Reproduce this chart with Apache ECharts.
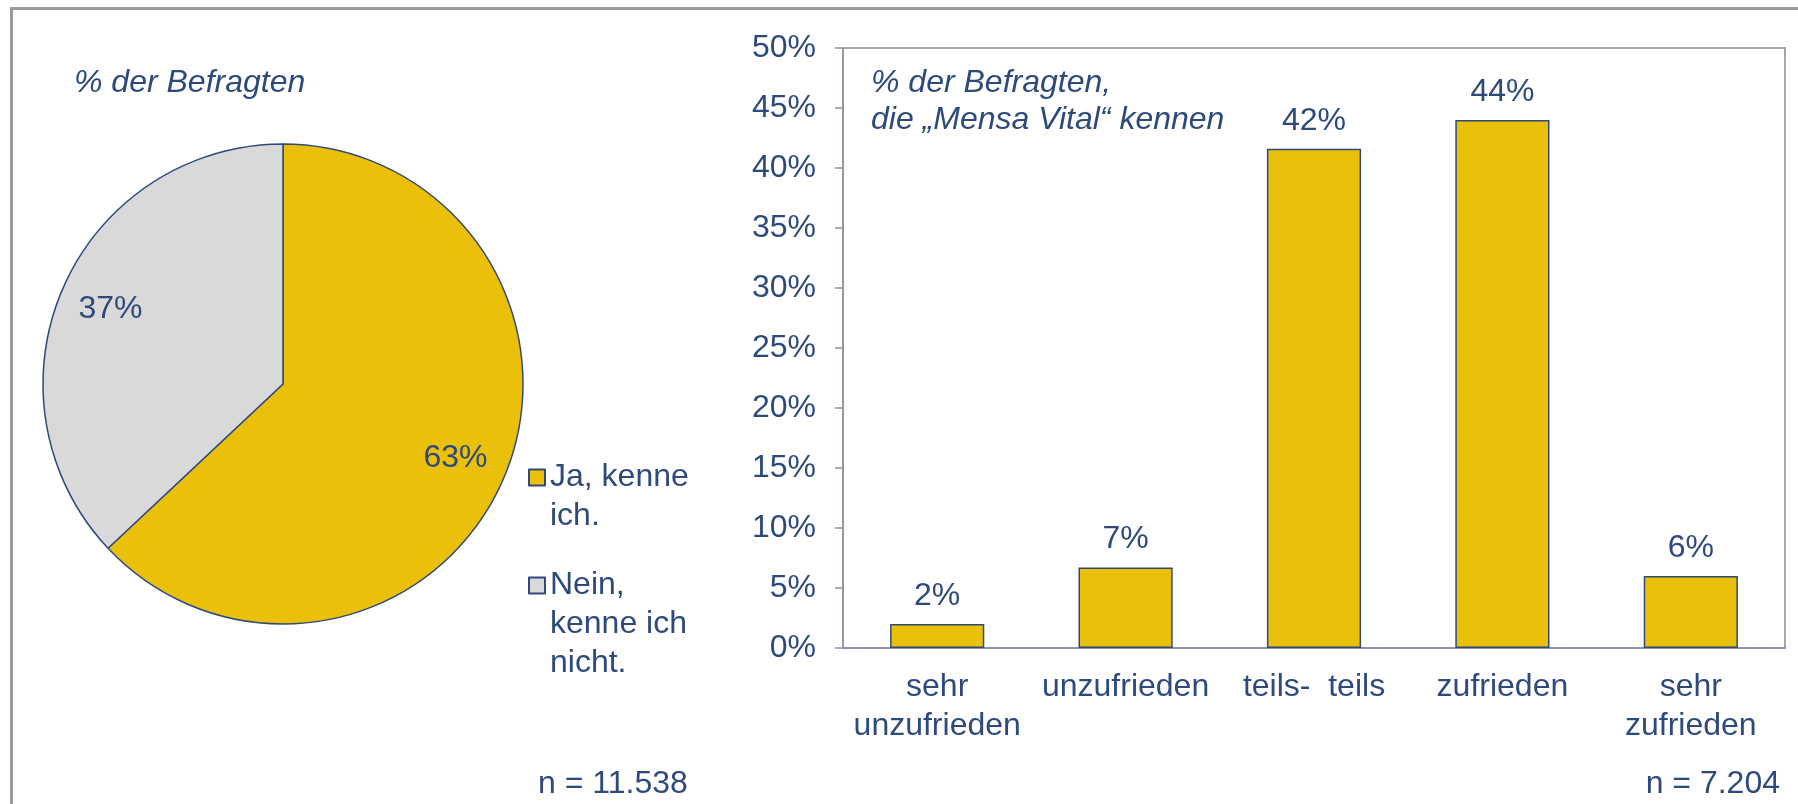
<!DOCTYPE html>
<html>
<head>
<meta charset="utf-8">
<script src="https://cdn.jsdelivr.net/npm/echarts@6/dist/echarts.min.js"></script>
<style>
  html, body { margin: 0; padding: 0; background: #fff; overflow: hidden; }
  #main { width: 1798px; height: 804px; position: relative; }
  #frame { position: absolute; left: 10px; top: 7px; width: 2000px; height: 1000px;
           border-left: 3px solid #9a9a9a; border-top: 3px solid #9a9a9a; pointer-events: none; }
</style>
</head>
<body>
<div id="main"></div>
<div id="frame"></div>
<script>
// Daten
var pieNames = ['Ja, kenne ich.', 'Nein, kenne ich nicht.'];
// Leerzeilen vorne, damit die erste Zeile auf Hoehe des Symbols steht
var pieLegendText = ['\nJa, kenne\nich.', '\n\nNein,\nkenne ich\nnicht.'];
var pieValues = [63, 37];

var barCategories = ['sehr\nunzufrieden', 'unzufrieden', 'teils-  teils', 'zufrieden', 'sehr\nzufrieden'];
var barValues = [2.0, 6.7, 41.6, 44.0, 6.0];

var navy = '#2e4a7c';
var yellow = '#ebc00b';
var grey = '#d9d9d9';
var font = 'Liberation Sans, Arial, sans-serif';

var myChart = echarts.init(document.getElementById('main'));

var pieData = pieNames.map(function (n, i) {
    return { name: n, value: pieValues[i] };
});

function legendFor(i, top) {
    return {
        data: [pieNames[i]], orient: 'vertical', left: 528, top: top, padding: 0,
        icon: 'rect', itemWidth: 16, itemHeight: 16,
        formatter: function (n) { return pieLegendText[pieNames.indexOf(n)]; },
        textStyle: { fontSize: 32, color: navy, lineHeight: 39 },
        selectedMode: false
    };
}

var option = {
    animation: false,
    textStyle: { fontFamily: font, color: navy },
    title: [
        {
            text: '% der Befragten', left: 69, top: 62,
            textStyle: { fontSize: 32, fontStyle: 'italic', fontWeight: 'normal', color: navy }
        },
        {
            text: '% der Befragten,\ndie „Mensa Vital“ kennen', left: 866, top: 60,
            textStyle: { fontSize: 32, fontStyle: 'italic', fontWeight: 'normal', color: navy, lineHeight: 37 }
        },
        {
            text: 'n = 11.538', left: 533, top: 763,
            textStyle: { fontSize: 32, fontWeight: 'normal', color: navy }
        },
        {
            text: 'n = 7.204', right: 13, top: 763,
            textStyle: { fontSize: 32, fontWeight: 'normal', color: navy }
        }
    ],
    legend: [legendFor(0, 419), legendFor(1, 488)],
    grid: {
        left: 843, top: 48, right: 13, bottom: 156,
        show: true, borderColor: '#8a8a8a', borderWidth: 1.5
    },
    xAxis: {
        type: 'category',
        data: barCategories,
        axisLine: { lineStyle: { color: '#8c92aa', width: 2 } },
        axisTick: { length: 9, lineStyle: { color: '#8c92aa', width: 1.5 } },
        axisLabel: { interval: 0, fontSize: 32, color: navy, lineHeight: 39, margin: 20 }
    },
    yAxis: {
        type: 'value',
        min: 0, max: 50, interval: 5,
        axisLine: { show: true, lineStyle: { color: '#8c92aa', width: 1.5 } },
        axisTick: { show: true, length: 8, lineStyle: { color: '#8c92aa', width: 1.5 } },
        splitLine: { show: false },
        axisLabel: { formatter: '{value}%', fontSize: 32, color: navy, margin: 27 }
    },
    series: [
        {
            name: 'Bekanntheit',
            type: 'pie',
            center: [283, 384],
            radius: [0, 240],
            startAngle: 90,
            clockwise: true,
            silent: true,
            data: pieData,
            color: [yellow, grey],
            itemStyle: { borderColor: navy, borderWidth: 1.5 },
            label: { show: false },
            labelLine: { show: false }
        },
        {
            // unsichtbarer Kreis nur fuer die Prozent-Beschriftung
            name: 'Beschriftung',
            type: 'pie',
            center: [283, 384],
            radius: [0, 370],
            startAngle: 90,
            clockwise: true,
            silent: true,
            data: pieData,
            itemStyle: { color: 'rgba(0,0,0,0)', borderWidth: 0 },
            label: {
                show: true, position: 'inside', fontSize: 32, color: navy,
                formatter: '{c}%'
            },
            labelLine: { show: false }
        },
        {
            name: 'Zufriedenheit',
            type: 'bar',
            data: barValues,
            barWidth: '50%',
            itemStyle: { color: yellow, borderColor: navy, borderWidth: 1.5 },
            label: {
                show: true, position: 'top', distance: 12, fontSize: 32, color: navy,
                formatter: function (p) { return Math.round(p.value) + '%'; }
            }
        }
    ]
};

myChart.setOption(option);
</script>
</body>
</html>
